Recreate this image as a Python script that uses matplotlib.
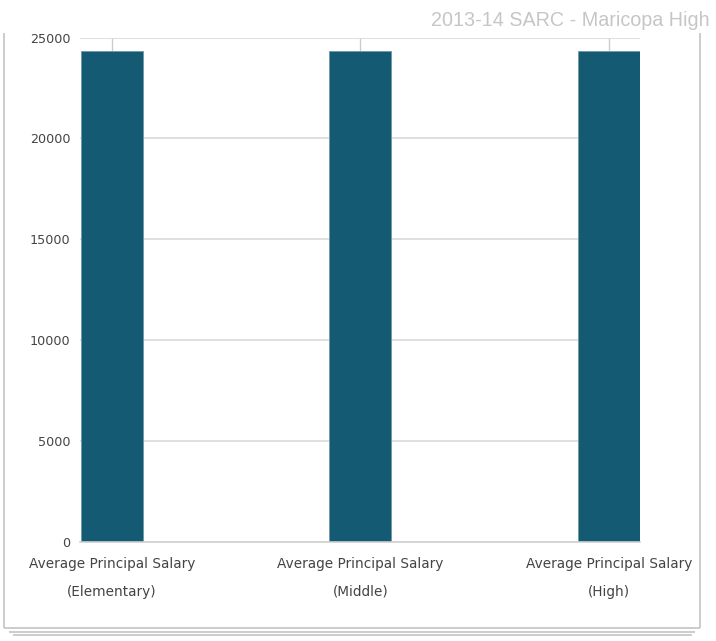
import matplotlib
matplotlib.use("Agg")
import matplotlib.pyplot as plt
from matplotlib.lines import Line2D

# Chart data
categories = [
    "Average Principal Salary\n(Elementary)",
    "Average Principal Salary\n(Middle)",
    "Average Principal Salary\n(High)",
]
salaries = [24355, 24355, 24355]
y_ticks = [0, 5000, 10000, 15000, 20000, 25000]
title = "2013-14 SARC - Maricopa High"

W, H = 716, 641
fig = plt.figure(figsize=(W / 100, H / 100), dpi=100)
fig.patch.set_facecolor("white")


def px(x, y):
    """Pixel coordinates (top-left origin) to figure fraction."""
    return x / W, 1 - y / H


# Card outline with stacked bottom edges
card = "#c8c8c8"
for (x0, y0), (x1, y1) in [
    ((4, 33), (4, 628)),
    ((4, 628), (700, 628)),
    ((700, 33), (700, 628)),
    ((9, 631.5), (695, 631.5)),
    ((13, 634.5), (692, 634.5)),
]:
    a, b = px(x0, y0)
    c, d = px(x1, y1)
    fig.add_artist(Line2D([a, c], [b, d], color=card, lw=1.3,
                          solid_capstyle="butt"))

# Plot area
left, right, top, bottom = 80, 640, 37.7, 541.7
ax = fig.add_axes([left / W, 1 - bottom / H, (right - left) / W, (bottom - top) / H])

x = range(len(categories))
ax.bar(x, salaries, width=0.25, color="#135a72", edgecolor="#6f9aa8",
       linewidth=0.6, zorder=2)

ax.set_xlim(-0.128, 2.125)
ax.set_ylim(0, 25000)
ax.set_yticks(y_ticks)
ax.set_yticklabels([str(v) for v in y_ticks])
ax.yaxis.grid(True, color="#d9d9d9", linewidth=1.2, zorder=0)
ax.set_axisbelow(True)

for s in ["left", "right", "top"]:
    ax.spines[s].set_visible(False)
ax.spines["bottom"].set_color("#d0d0d0")
ax.spines["bottom"].set_linewidth(1.2)

ax.tick_params(axis="y", length=0, pad=7, labelsize=9.2, labelcolor="#444444")
ax.set_xticks(list(x))
ax.set_xticklabels([])
ax.tick_params(axis="x", bottom=False, top=True, direction="in",
               length=9.5, width=1.0, color="#cccccc")

# Category labels below the axis, two lines each
for i, lab in enumerate(categories):
    line1, line2 = lab.split("\n")
    ax.annotate(line1, xy=(i, 0), xycoords="data", xytext=(0, -22),
                textcoords="offset pixels", ha="center", va="center",
                fontsize=9.8, color="#444444")
    ax.annotate(line2, xy=(i, 0), xycoords="data", xytext=(0, -50),
                textcoords="offset pixels", ha="center", va="center",
                fontsize=9.8, color="#444444")

tx, ty = px(710, 21)
fig.text(tx, ty, title, ha="right", va="center", fontsize=14.2,
         family="Liberation Sans", color="#c6c6c6")

fig.savefig("out.png", dpi=100, facecolor="white")
